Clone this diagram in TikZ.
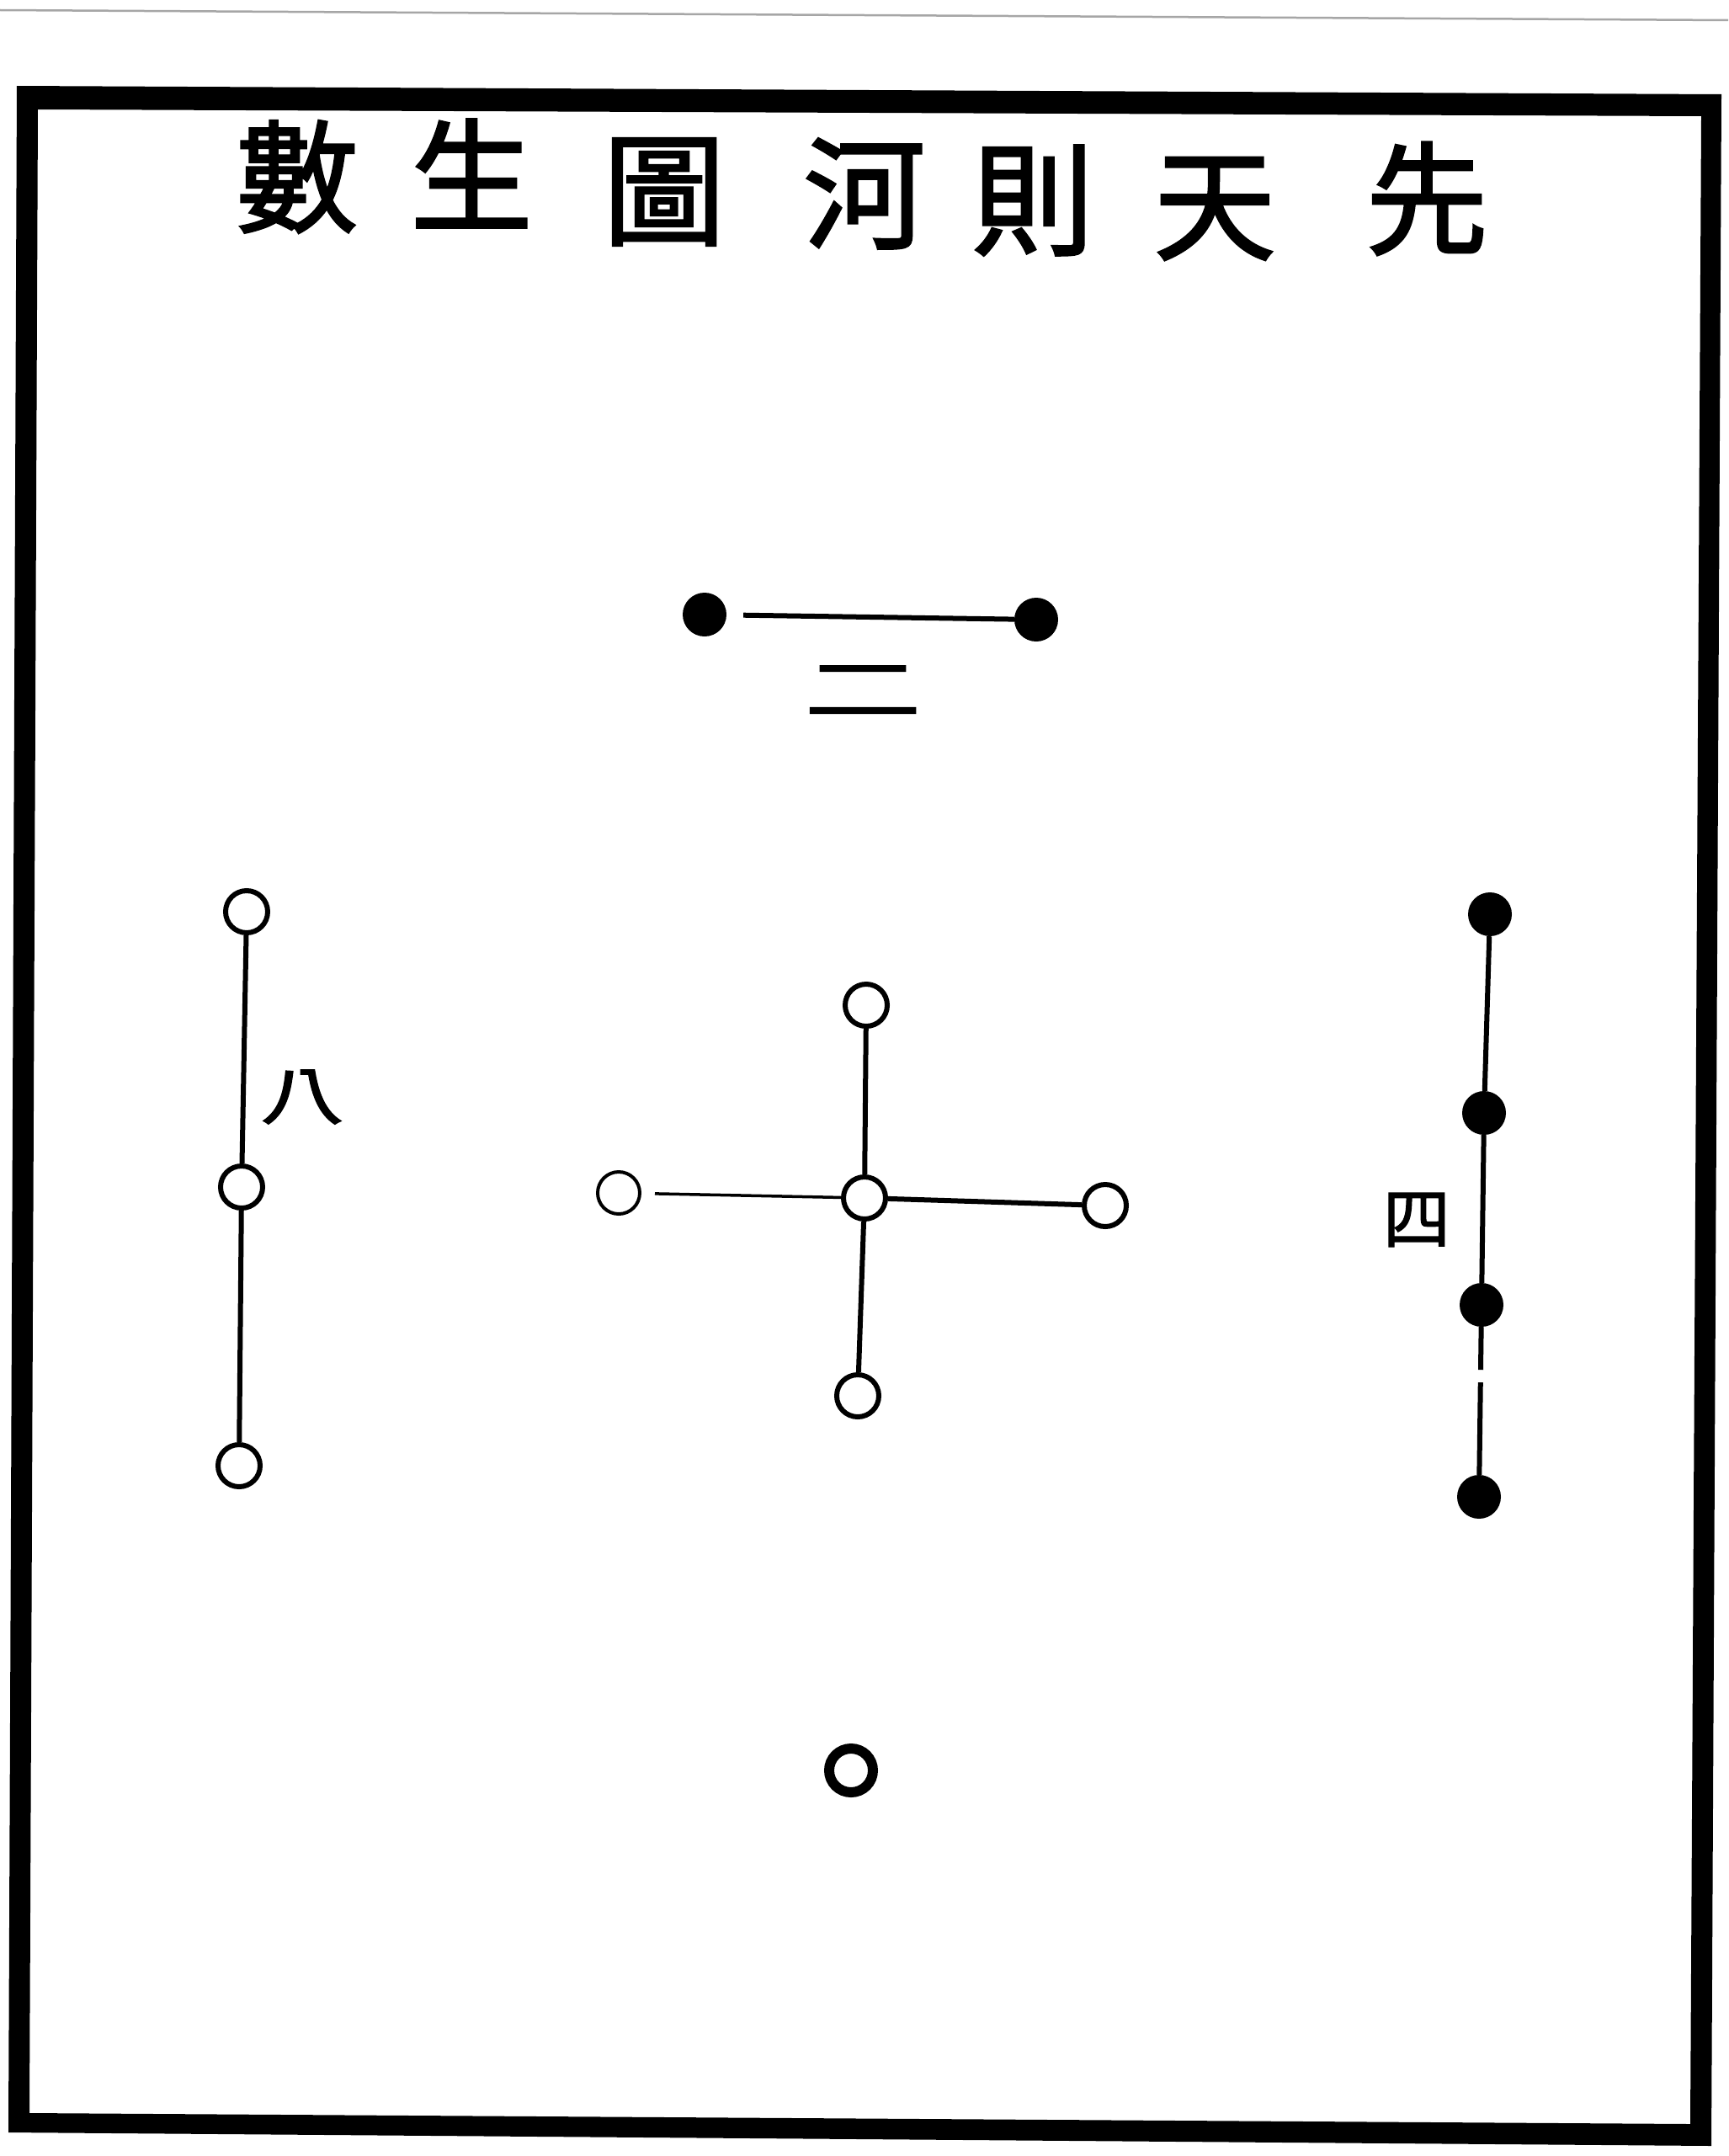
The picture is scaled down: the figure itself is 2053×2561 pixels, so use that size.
\documentclass[tikz,border=0pt]{standalone}
\usepackage{fontspec}
\newfontfamily\cjk[FakeBold=2]{Noto Sans CJK TC}
\newfontfamily\cjklbl[FakeBold=1.5]{Noto Sans CJK TC}
\begin{document}
\begin{tikzpicture}[x=1pt,y=-1pt,
  ttl/.style={inner sep=0pt, font=\cjk\fontsize{145}{145}\selectfont},
  lbl/.style={inner sep=0pt},
  opendot/.style={circle, draw, line width=6pt, minimum size=50pt, inner sep=0pt},
  thinopen/.style={circle, draw, line width=4pt, minimum size=50pt, inner sep=0pt},
  blackdot/.style={circle, fill=black, minimum size=52pt, inner sep=0pt},
  ring/.style={circle, draw, line width=12pt, minimum size=52pt, inner sep=0pt},
  link/.style={line width=6pt},
  thinlink/.style={line width=3.5pt}]
\useasboundingbox (0,0) rectangle (2053,2561);
\fill[white] (0,0) rectangle (2053,2561);
% thin rule at top of page
\draw[gray!70, line width=2.5pt] (0,12) -- (2053,24);
% heavy frame
\fill[black, even odd rule] (20,102) -- (2045,112) -- (2033,2549) -- (10,2533) -- cycle
  (45,130) -- (2021,138) -- (2008,2523) -- (35,2510) -- cycle;
% title
\node[ttl] (t1) at (353,210) {數};
\node[ttl] (t2) at (560,206) {生};
\node[ttl] (t3) at (789,228) {圖};
\node[ttl] (t4) at (1027,230) {河};
\node[ttl] (t5) at (1227,238) {則};
\node[ttl] (t6) at (1443,248) {天};
\node[ttl] (t7) at (1695,236) {先};
% top pair (two)
\node[blackdot] (a1) at (837,730) {};
\node[blackdot] (a2) at (1231,736) {};
\draw[link, shorten <=20pt] (a1) -- (a2);
\node[lbl, font=\cjklbl\fontsize{140}{140}\selectfont, yscale=0.6] (la) at (1025,820) {二};
% left column (eight)
\node[opendot] (b1) at (293,1083) {};
\node[opendot] (b2) at (287,1410) {};
\node[opendot] (b3) at (284,1741) {};
\draw[link] (b1) -- (b2);
\draw[link] (b2) -- (b3);
\node[lbl, font=\cjklbl\fontsize{100}{100}\selectfont, yscale=0.75] (lb) at (359,1303) {八};
% centre cross (five)
\node[opendot] (c0) at (1027,1423) {};
\node[opendot] (cn) at (1029,1194) {};
\node[opendot] (cs) at (1019,1658) {};
\node[thinopen] (cw) at (735,1417) {};
\node[opendot] (ce) at (1313,1432) {};
\draw[link] (c0) -- (cn);
\draw[link] (c0) -- (cs);
\draw[thinlink, shorten >=16pt] (c0) -- (cw);
\draw[link] (c0) -- (ce);
% right column (four)
\node[blackdot] (d1) at (1770,1086) {};
\node[blackdot] (d2) at (1763,1322) {};
\node[blackdot] (d3) at (1760,1550) {};
\node[blackdot] (d4) at (1757,1778) {};
\draw[link] (d1) -- (d2);
\draw[link] (d2) -- (d3);
\draw[link, dash pattern=on 51pt off 15pt on 400pt] (d3) -- (d4);
\node[lbl, font=\cjklbl\fontsize{80}{80}\selectfont] (ld) at (1683,1449) {四};
% bottom ring (one)
\node[ring] (e1) at (1011,2103) {};
\end{tikzpicture}
\end{document}
